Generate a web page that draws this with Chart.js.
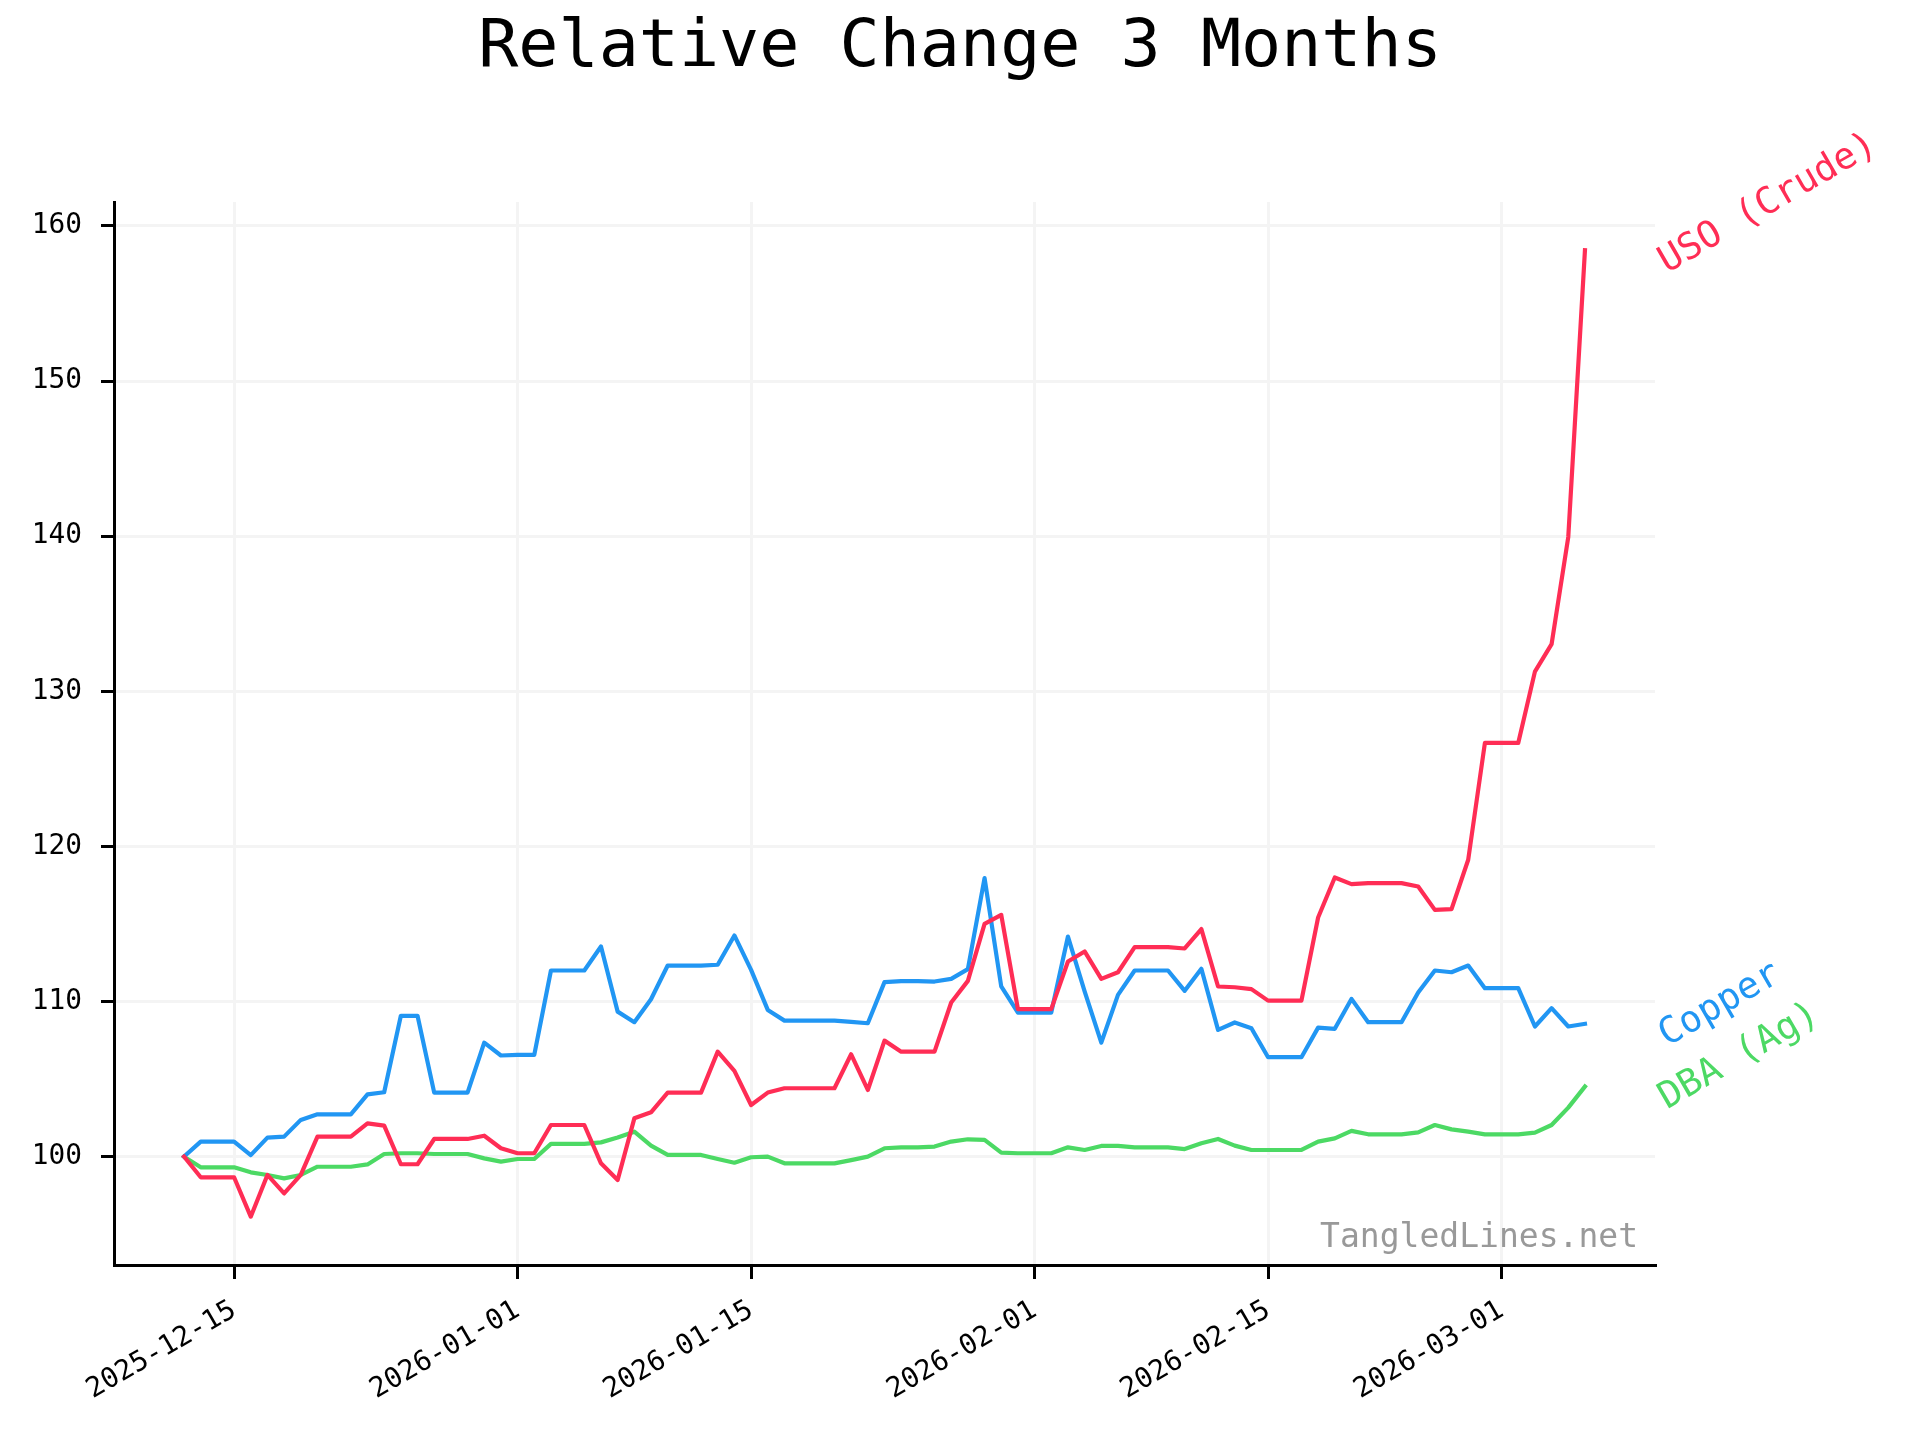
<!DOCTYPE html>
<html>
<head>
<meta charset="utf-8">
<title>Relative Change 3 Months</title>
<script src="https://cdn.jsdelivr.net/npm/chart.js@4.4.1/dist/chart.umd.min.js"></script>
<style>
    html, body { margin: 0; padding: 0; background: #ffffff; }
    #chart { display: block; }
</style>
</head>
<body>
<canvas id="chart" width="1920" height="1440"></canvas>
<script>
// ========== data ==========

const chartTitle = 'Relative Change 3 Months';

const dates = [
    '2025-12-12', '2025-12-13', '2025-12-14', '2025-12-15', '2025-12-16', '2025-12-17', '2025-12-18',
    '2025-12-19', '2025-12-20', '2025-12-21', '2025-12-22', '2025-12-23', '2025-12-24', '2025-12-25',
    '2025-12-26', '2025-12-27', '2025-12-28', '2025-12-29', '2025-12-30', '2025-12-31', '2026-01-01',
    '2026-01-02', '2026-01-03', '2026-01-04', '2026-01-05', '2026-01-06', '2026-01-07', '2026-01-08',
    '2026-01-09', '2026-01-10', '2026-01-11', '2026-01-12', '2026-01-13', '2026-01-14', '2026-01-15',
    '2026-01-16', '2026-01-17', '2026-01-18', '2026-01-19', '2026-01-20', '2026-01-21', '2026-01-22',
    '2026-01-23', '2026-01-24', '2026-01-25', '2026-01-26', '2026-01-27', '2026-01-28', '2026-01-29',
    '2026-01-30', '2026-01-31', '2026-02-01', '2026-02-02', '2026-02-03', '2026-02-04', '2026-02-05',
    '2026-02-06', '2026-02-07', '2026-02-08', '2026-02-09', '2026-02-10', '2026-02-11', '2026-02-12',
    '2026-02-13', '2026-02-14', '2026-02-15', '2026-02-16', '2026-02-17', '2026-02-18', '2026-02-19',
    '2026-02-20', '2026-02-21', '2026-02-22', '2026-02-23', '2026-02-24', '2026-02-25', '2026-02-26',
    '2026-02-27', '2026-02-28', '2026-03-01', '2026-03-02', '2026-03-03', '2026-03-04', '2026-03-05',
    '2026-03-06'
];

const usoValues = [
    100.00, 98.67, 98.67, 98.67, 96.13, 98.82, 97.63,
    98.82, 101.29, 101.29, 101.29, 102.15, 102.00, 99.51,
    99.51, 101.14, 101.14, 101.14, 101.35, 100.54, 100.22,
    100.22, 102.04, 102.04, 102.04, 99.57, 98.49, 102.47,
    102.86, 104.13, 104.13, 104.13, 106.77, 105.53, 103.33,
    104.13, 104.41, 104.41, 104.41, 104.41, 106.60, 104.30,
    107.48, 106.77, 106.77, 106.77, 109.94, 111.33, 115.01,
    115.59, 109.51, 109.51, 109.51, 112.58, 113.23, 111.46,
    111.89, 113.51, 113.51, 113.51, 113.42, 114.67, 110.97,
    110.92, 110.80, 110.06, 110.06, 110.06, 115.42, 118.00,
    117.57, 117.63, 117.63, 117.63, 117.42, 115.91, 115.96,
    119.14, 126.67, 126.67, 126.67, 131.27, 133.04, 139.95,
    158.43
];

const copperValues = [
    100.00, 100.97, 100.97, 100.97, 100.10, 101.23, 101.29,
    102.37, 102.73, 102.73, 102.73, 104.02, 104.15, 109.08,
    109.08, 104.13, 104.13, 104.13, 107.35, 106.52, 106.56,
    106.56, 112.00, 112.00, 112.00, 113.55, 109.35, 108.67,
    110.15, 112.32, 112.32, 112.32, 112.37, 114.26, 112.04,
    109.46, 108.77, 108.77, 108.77, 108.77, 108.69, 108.60,
    111.25, 111.31, 111.31, 111.29, 111.46, 112.09, 117.96,
    110.97, 109.29, 109.29, 109.29, 114.19, 110.65, 107.35,
    110.43, 112.00, 112.00, 112.00, 110.69, 112.11, 108.17,
    108.65, 108.28, 106.41, 106.41, 106.41, 108.32, 108.24,
    110.17, 108.67, 108.67, 108.67, 110.58, 112.00, 111.89,
    112.32, 110.86, 110.86, 110.86, 108.39, 109.57, 108.39,
    108.56
];

const dbaValues = [
    100.00, 99.31, 99.31, 99.31, 98.99, 98.82, 98.60,
    98.82, 99.35, 99.35, 99.35, 99.50, 100.17, 100.22,
    100.22, 100.17, 100.17, 100.17, 99.89, 99.68, 99.85,
    99.85, 100.82, 100.82, 100.82, 100.92, 101.23, 101.61,
    100.71, 100.11, 100.11, 100.11, 99.85, 99.61, 99.96,
    100.00, 99.57, 99.57, 99.57, 99.57, 99.78, 100.00,
    100.54, 100.60, 100.60, 100.65, 100.97, 101.12, 101.08,
    100.26, 100.22, 100.22, 100.22, 100.60, 100.43, 100.69,
    100.69, 100.60, 100.60, 100.60, 100.49, 100.86, 101.14,
    100.71, 100.43, 100.43, 100.43, 100.43, 100.97, 101.18,
    101.66, 101.44, 101.44, 101.44, 101.57, 102.04, 101.76,
    101.61, 101.44, 101.44, 101.44, 101.55, 102.04, 103.16,
    104.52
];

const seriesNames = ['USO (Crude)', 'Copper', 'DBA (Ag)'];
const xTickDates = ['2025-12-15', '2026-01-01', '2026-01-15', '2026-02-01', '2026-02-15', '2026-03-01'];
const yTicks = [100, 110, 120, 130, 140, 150, 160];

const COLORS = {
    uso: '#FF2D55',
    copper: '#2196F3',
    dba: '#4CD964',
    grid: '#f4f4f4',
    axis: '#000000',
    mark: '#999999'
};
const MONO = "'DejaVu Sans Mono', monospace";

// ========== helpers ==========

function dayNumber(s) {
    const [y, m, d] = s.split('-').map(Number);
    return Date.UTC(y, m - 1, d) / 86400000;
}

function dayLabel(n) {
    return new Date(Math.round(n) * 86400000).toISOString().slice(0, 10);
}

function toPoints(values) {
    return values.map((v, i) => ({ x: dayNumber(dates[i]), y: v }));
}

// matplotlib-like 5% margins
const xFirst = dayNumber(dates[0]);
const xLast = dayNumber(dates[dates.length - 1]);
const xPad = (xLast - xFirst) * 0.05;
const allValues = usoValues.concat(copperValues, dbaValues);
const yLo = Math.min(...allValues);
const yHi = Math.max(...allValues);
const yPad = (yHi - yLo) * 0.05;

// ========== plugins ==========

const decorations = {
    id: 'decorations',
    afterDatasetsDraw(chart) {
        const ctx = chart.ctx;
        chart.data.datasets.forEach((ds, i) => {
            const pts = chart.getDatasetMeta(i).data;
            const last = pts[pts.length - 1];
            ctx.save();
            ctx.translate(last.x + 82, last.y + 23);
            ctx.rotate(-Math.PI / 6);
            ctx.font = '37px ' + MONO;
            ctx.fillStyle = ds.borderColor;
            ctx.textAlign = 'left';
            ctx.textBaseline = 'alphabetic';
            ctx.fillText(ds.label, 0, 0);
            ctx.restore();
        });
    },
    afterDraw(chart) {
        const ctx = chart.ctx;
        const area = chart.chartArea;
        ctx.save();
        // watermark, bottom right of the plot
        ctx.font = '33px ' + MONO;
        ctx.fillStyle = COLORS.mark;
        ctx.textAlign = 'right';
        ctx.textBaseline = 'alphabetic';
        ctx.fillText('TangledLines.net', area.right - 17, area.bottom - 18);
        // figure title, centred on the whole canvas
        ctx.font = '66.7px ' + MONO;
        ctx.fillStyle = '#000000';
        ctx.textAlign = 'center';
        ctx.fillText(chartTitle, chart.width / 2, 66);
        ctx.restore();
    }
};

// ========== chart ==========

function makeLine(label, values, color) {
    return {
        label: label,
        data: toPoints(values),
        borderColor: color,
        backgroundColor: color,
        borderWidth: 4.2,
        borderJoinStyle: 'round',
        borderCapStyle: 'square',
        pointRadius: 0,
        tension: 0,
        fill: false
    };
}

const chart = new Chart(document.getElementById('chart'), {
    type: 'line',
    data: {
        datasets: [
            makeLine(seriesNames[0], usoValues, COLORS.uso),
            makeLine(seriesNames[1], copperValues, COLORS.copper),
            makeLine(seriesNames[2], dbaValues, COLORS.dba)
        ]
    },
    options: {
        responsive: false,
        devicePixelRatio: 1,
        animation: false,
        layout: {
            padding: { left: 0, right: 265, top: 202, bottom: 0 }
        },
        plugins: {
            legend: { display: false },
            tooltip: { enabled: false },
            title: { display: false }
        },
        scales: {
            x: {
                type: 'linear',
                min: xFirst - xPad,
                max: xLast + xPad,
                afterBuildTicks: function(scale) {
                    scale.ticks = xTickDates.map(d => ({ value: dayNumber(d) }));
                },
                afterFit: function(scale) {
                    scale.height = 175;
                    scale.paddingLeft = 0;
                    scale.paddingRight = 0;
                },
                border: { display: true, color: COLORS.axis, width: 3 },
                grid: {
                    color: COLORS.grid,
                    lineWidth: 3,
                    drawTicks: true,
                    tickLength: 14,
                    tickColor: COLORS.axis,
                    tickWidth: 3
                },
                ticks: {
                    autoSkip: false,
                    minRotation: 30,
                    maxRotation: 30,
                    padding: 15,
                    color: '#000000',
                    font: { family: MONO, size: 27.8 },
                    callback: function(value) {
                        return dayLabel(value);
                    }
                }
            },
            y: {
                type: 'linear',
                min: yLo - yPad,
                max: yHi + yPad,
                afterBuildTicks: function(scale) {
                    scale.ticks = yTicks.map(v => ({ value: v }));
                },
                afterFit: function(scale) {
                    scale.width = 114;
                    scale.paddingTop = 0;
                    scale.paddingBottom = 0;
                },
                border: { display: true, color: COLORS.axis, width: 3 },
                grid: {
                    color: COLORS.grid,
                    lineWidth: 3,
                    drawTicks: true,
                    tickLength: 13,
                    tickColor: COLORS.axis,
                    tickWidth: 3
                },
                ticks: {
                    padding: 19,
                    color: '#000000',
                    font: { family: MONO, size: 27.8 },
                    callback: function(value) {
                        return String(value);
                    }
                }
            }
        }
    },
    plugins: [decorations]
});
</script>
</body>
</html>
